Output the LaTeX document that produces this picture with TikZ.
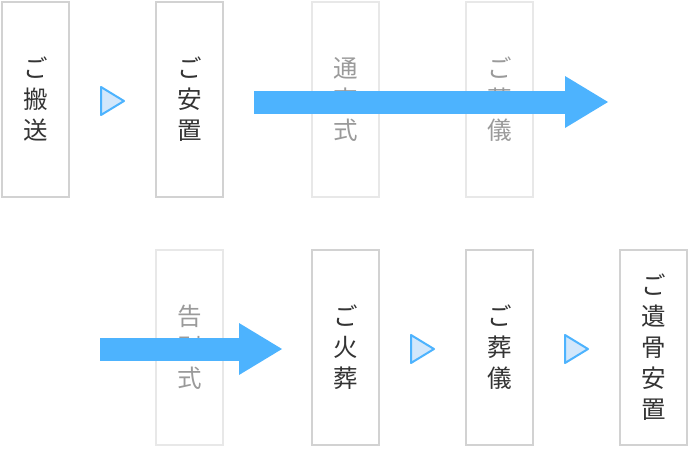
\documentclass[tikz,border=0pt]{standalone}
\usepackage{fontspec}
\usetikzlibrary{arrows.meta}
\newfontfamily\jpfont{Noto Sans CJK JP}

\definecolor{flowblue}{HTML}{4DB3FE}
\definecolor{trifill}{HTML}{D2E7FB}
\definecolor{boxline}{HTML}{D2D2D2}
\definecolor{fadeline}{HTML}{E8E8E8}
\definecolor{inktext}{HTML}{333333}
\definecolor{fadetext}{HTML}{9A9A9A}

\tikzset{
  stepbox/.style={draw=boxline, line width=2pt, minimum width=67.5pt, minimum height=195.5pt,
    inner sep=0pt, align=center, text=inktext, font=\jpfont\fontsize{24.5}{31}\selectfont},
  fadebox/.style={stepbox, draw=fadeline, text=fadetext},
  nexttri/.style={draw=flowblue, fill=trifill, line width=2pt, line join=round},
  bigarrow/.style={draw=flowblue, line width=23pt,
    -{Triangle[length=43pt, width=52pt, line width=0pt]}}
}

\begin{document}
\begin{tikzpicture}[x=1pt, y=-1pt]
    \useasboundingbox (0,0) rectangle (690,448);

    % Top row
    \node[stepbox] (hansou) at (35.5,99.5) {ご\\搬\\送};
    \node[stepbox] (anchi) at (189.5,99.5) {ご\\安\\置};
    \node[fadebox] (tsuya) at (345.5,99.5) {通\\夜\\式};
    \node[fadebox] (sougi1) at (499.5,99.5) {ご\\葬\\儀};

    % Bottom row
    \node[fadebox] (kokubetsu) at (189.5,347.5) {告\\別\\式};
    \node[stepbox] (kasou) at (345.5,347.5) {ご\\火\\葬};
    \node[stepbox] (sougi2) at (499.5,347.5) {ご\\葬\\儀};
    \node[stepbox] (ikotsu) at (653.5,347.5) {ご\\遺\\骨\\安\\置};

    % Small step triangles
    \draw[nexttri] (101,87) -- (124,101) -- (101,115) -- cycle;
    \draw[nexttri] (411,335) -- (434,349) -- (411,363) -- cycle;
    \draw[nexttri] (565,335) -- (588,349) -- (565,363) -- cycle;

    % Big arrows skipping the faded steps
    \coordinate (skipA) at (254,102);
    \coordinate (skipAend) at (608,102);
    \coordinate (skipB) at (100,349);
    \coordinate (skipBend) at (282,349);
    \draw[bigarrow] (skipA) -- (skipAend);
    \draw[bigarrow] (skipB) -- (skipBend);

\end{tikzpicture}
\end{document}
